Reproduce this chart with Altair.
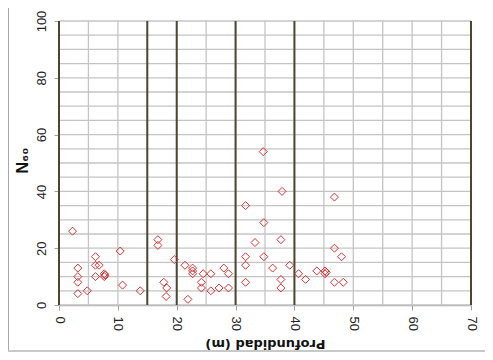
import altair as alt
import pandas as pd

# Data
depth = [2.3, 3.2, 3.2, 3.2, 3.2, 4.8, 6.2, 6.2, 6.8, 6.2, 7.7, 7.8, 7.7,
         10.4, 10.8, 13.8, 16.8, 16.8, 17.8, 18.3, 18.2, 19.6, 21.4, 21.9,
         22.7, 22.7, 22.7, 24.5, 25.8, 24.2, 24.2, 25.8, 27.2, 28.8, 28.0,
         28.8, 31.7, 31.7, 31.7, 31.7, 33.3, 34.7, 34.8, 34.8, 37.9, 37.7,
         36.3, 39.2, 37.7, 37.7, 40.7, 41.9, 43.8, 45.2, 45.4, 45.2, 46.8,
         46.8, 48.0, 46.8, 48.3]
n60 = [26, 13, 10, 8, 4, 5, 17, 14, 14, 10, 11, 10.5, 10,
       19, 7, 5, 23, 21, 8, 6, 3, 16, 14, 2,
       13, 12, 11, 11, 11, 8, 6, 5, 6, 6, 13,
       11, 35, 17, 14, 8, 22, 54, 29, 17, 40, 23,
       13, 14, 9, 6, 11, 9, 12, 12, 11.5, 11, 38,
       20, 17, 8, 8]

x_ticks = [0, 10, 20, 30, 40, 50, 60, 70]
y_ticks = [0, 20, 40, 60, 80, 100]
grid_x = list(range(0, 71, 5))
grid_y = list(range(0, 101, 5))
dark_x = [0, 15, 20, 30, 40, 70]

pts = pd.DataFrame({"depth": depth, "n60": n60})
gx = pd.DataFrame({"depth": grid_x})
gy = pd.DataFrame({"n60": grid_y})
dx = pd.DataFrame({"depth": dark_x})

xscale = alt.Scale(domain=[0, 70], nice=False, zero=False)
yscale = alt.Scale(domain=[0, 100], nice=False, zero=False)

xaxis = alt.Axis(values=x_ticks, title="Profundidad (m)", grid=False,
                 labelAngle=90, labelAlign="left", labelBaseline="middle",
                 labelPadding=6, tickSize=5, tickColor="#a0a0a0",
                 domainColor="#a8a8a8", domainWidth=1.5,
                 labelFont="Liberation Sans", labelFontSize=13,
                 labelColor="#222222",
                 titleFont="DejaVu Sans", titleFontSize=13,
                 titleFontWeight="bold", titleColor="#111111",
                 titleAngle=180, titleBaseline="middle",
                 titleAlign="center", titleX=206, titleY=38)
yaxis = alt.Axis(values=y_ticks, title="N₆₀", grid=False,
                 labelAngle=-90, labelAlign="center",
                 labelBaseline="alphabetic", labelPadding=9,
                 tickSize=5, tickColor="#a0a0a0", domain=False,
                 labelFont="Liberation Sans", labelFontSize=13,
                 labelColor="#222222",
                 titleFont="Liberation Sans", titleFontSize=16,
                 titleFontWeight="bold", titleColor="#111111",
                 titleAngle=-90, titleBaseline="middle",
                 titleAlign="center", titleX=-37, titleY=139)

X = alt.X("depth:Q", scale=xscale, axis=xaxis)
Y = alt.Y("n60:Q", scale=yscale, axis=yaxis)

grid_v = alt.Chart(gx).mark_rule(color="#c4c4c4", strokeWidth=1.3).encode(x=X)
grid_h = alt.Chart(gy).mark_rule(color="#c4c4c4", strokeWidth=1.3).encode(y=Y)
dark = alt.Chart(dx).mark_rule(color="#4b4632", strokeWidth=2).encode(x=X)

points = alt.Chart(pts).mark_point(
    shape="diamond", filled=False, color="#d03434", size=64, strokeWidth=1, opacity=1
).encode(x=X, y=Y)

frame_left = alt.Chart(gx).mark_rule(color="#a8a8a8", strokeWidth=1.2).encode(
    x=alt.value(-51), y=alt.value(-13), y2=alt.value(331)
)
frame_bottom = alt.Chart(gx).mark_rule(color="#c8c8c8", strokeWidth=1.2).encode(
    x=alt.value(-51), x2=alt.value(426), y=alt.value(330)
)

chart = alt.layer(grid_v, grid_h, dark, points, frame_left, frame_bottom).properties(
    width=412, height=284,
    autosize=alt.AutoSizeParams(type="none"),
    padding={"left": 51, "top": 13, "right": 14, "bottom": 47},
    background="white",
).configure_view(stroke=None)

chart.save("out.html", embed_options={"renderer": "svg", "actions": False})
